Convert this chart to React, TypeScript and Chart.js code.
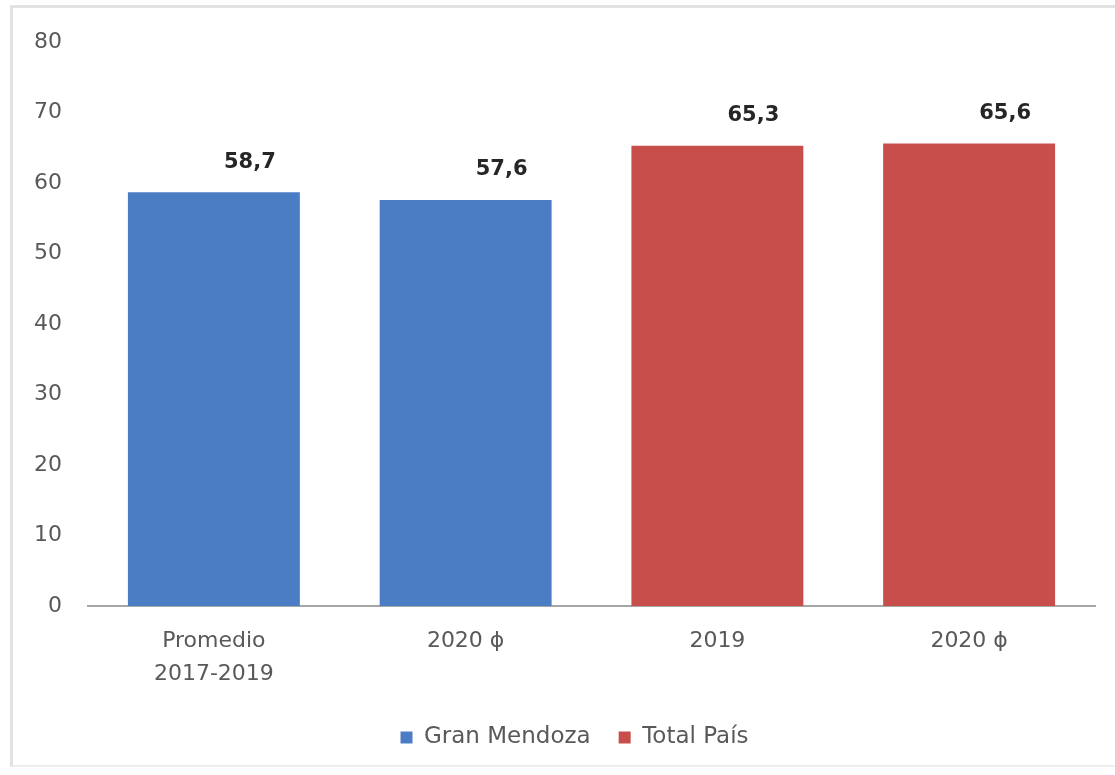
import React, { useEffect, useRef } from "react";
import { Chart, registerables } from "chart.js";

Chart.register(...registerables);

const categories: (string | string[])[] = [["Promedio", "2017-2019"], "2020 ϕ", "2019", "2020 ϕ"];
const granMendoza: (number | null)[] = [58.7, 57.6, null, null];
const totalPais: (number | null)[] = [null, null, 65.3, 65.6];
const seriesNames = ["Gran Mendoza", "Total País"];
const seriesColors = ["#4B7DC4", "#C84E4C"];
const yTicks = [0, 10, 20, 30, 40, 50, 60, 70, 80];

const FONT = "'DejaVu Sans', sans-serif";

const dataLabelPlugin = {
  id: "dataLabels",
  afterDatasetsDraw(chart: any) {
    const ctx = chart.ctx;
    ctx.save();
    ctx.font = `bold 21px ${FONT}`;
    ctx.fillStyle = "#262626";
    ctx.textAlign = "center";
    ctx.textBaseline = "middle";
    chart.data.datasets.forEach((ds: any, i: number) => {
      const meta = chart.getDatasetMeta(i);
      meta.data.forEach((el: any, j: number) => {
        const v = ds.data[j];
        if (v == null) return;
        const txt = v.toFixed(1).replace(".", ",");
        ctx.fillText(txt, el.x + 36, el.y - 30);
      });
    });
    ctx.restore();
  },
};

const legendShiftPlugin = {
  id: "legendShift",
  afterLayout(chart: any) {
    if (chart.legend) {
      chart.legend.left += 23;
      chart.legend.right += 23;
    }
  },
};

export default function App() {
  const ref = useRef<HTMLCanvasElement | null>(null);
  useEffect(() => {
    if (!ref.current) return;
    const chart = new Chart(ref.current, {
      type: "bar",
      data: {
        labels: categories,
        datasets: [
          {
            label: seriesNames[0],
            data: granMendoza,
            backgroundColor: seriesColors[0],
            skipNull: true,
          } as any,
          {
            label: seriesNames[1],
            data: totalPais,
            backgroundColor: seriesColors[1],
            skipNull: true,
          } as any,
        ],
      },
      options: {
        animation: false,
        responsive: false,
        layout: { padding: { left: 8, right: 20, top: 42, bottom: 16 } },
        datasets: { bar: { categoryPercentage: 0.683, barPercentage: 1, skipNull: true } as any },
        plugins: {
          legend: {
            position: "bottom",
            labels: {
              font: { family: FONT, size: 23 },
              color: "#595959",
              boxWidth: 12,
              boxHeight: 12,
              padding: 28,
            },
          },
          tooltip: { enabled: false },
        },
        scales: {
          x: {
            grid: { display: false, drawTicks: false },
            border: { display: true, color: "#A6A6A6", width: 2 },
            ticks: {
              font: { family: FONT, size: 22, lineHeight: 1.5 },
              color: "#595959",
              padding: 19,
              maxRotation: 0,
            },
            afterFit(scale: any) {
              scale.height = 92;
            },
          },
          y: {
            min: 0,
            max: 80,
            grid: { display: false, drawTicks: false },
            border: { display: false },
            afterBuildTicks(scale: any) {
              scale.ticks = yTicks.map((v) => ({ value: v }));
            },
            ticks: {
              font: { family: FONT, size: 22 },
              color: "#595959",
              padding: 26,
            },
            afterFit(scale: any) {
              scale.width = 80;
            },
          },
        },
      },
      plugins: [dataLabelPlugin, legendShiftPlugin],
    });
    return () => chart.destroy();
  }, []);

  return (
    <div style={{ position: "absolute", left: 0, top: 0, width: 1115, height: 775, background: "#fff", overflow: "hidden" }}>
      <div
        style={{
          position: "absolute",
          left: 10,
          top: 5,
          width: 1120,
          height: 762,
          borderTop: "3px solid #e2e2e2",
          borderLeft: "3px solid #e2e2e2",
          borderBottom: "2px solid #eeeeee",
          boxSizing: "border-box",
        }}
      />
      <canvas ref={ref} width={1115} height={775} style={{ position: "absolute", left: 0, top: 0 }} />
    </div>
  );
}
